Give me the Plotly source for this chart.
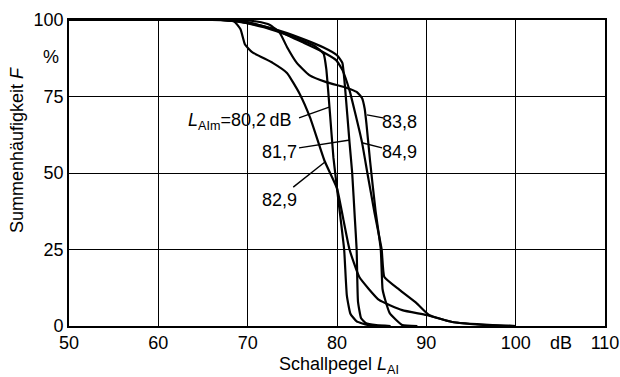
import plotly.graph_objects as go

# ---- data ----
x_802 = [50, 66, 69, 72, 75, 77.5, 78.5, 78.8, 79.2, 79.6, 80.2, 80.8, 81.1, 81.5, 82.2, 83.5, 85]
F_802 = [100, 100, 99.5, 97.5, 94.5, 91.5, 89, 84, 70, 55, 40, 25, 10, 4, 1.5, 0.3, 0]

x_817 = [50, 67, 70, 73, 76, 78.5, 80, 80.6, 80.9, 81.4, 81.7, 82.0, 82.2, 82.35, 82.7, 83.2, 84.4, 86]
F_817 = [100, 100, 99, 97, 94, 91, 88.5, 86, 78, 60, 50, 35, 25, 8, 2.5, 1, 0.3, 0]

x_829 = [50, 67, 68.5, 69.2, 69.7, 70.5, 72.8, 74.4, 75.8, 77, 78.6, 80, 80.7, 81.4, 82.5, 84.7, 87.3, 90, 92.9, 96.7, 100]
F_829 = [100, 100, 99.5, 97, 92, 89.5, 86, 82.7, 76, 68, 54, 45, 35, 25, 16, 8.5, 5.2, 3.6, 1.3, 0.3, 0]

x_838 = [50, 69, 71, 72.5, 73.6, 74.4, 75.5, 76.9, 78.8, 81.1, 82.2, 82.8, 83.1, 83.3, 83.7, 84.3, 84.9, 85.1, 85.4, 85.9, 87.3, 89]
F_838 = [100, 100, 99.5, 98.4, 95.8, 91.2, 86, 82, 79.7, 77.8, 76.5, 74.5, 71, 66, 54, 38, 25, 12, 8.5, 4.2, 0.3, 0]

x_849 = [50, 68, 70, 73.2, 76.1, 78, 79.9, 80.6, 81.4, 82, 82.8, 83.4, 84.2, 85, 85.3, 87, 88.9, 90.3, 92.9, 97.4, 100]
F_849 = [100, 100, 99.3, 96.7, 92.8, 90.2, 86.9, 83.7, 77, 70, 60, 50, 37, 25, 16, 11.8, 7.5, 3.6, 1.3, 0.3, 0]

x_ticks = [50, 60, 70, 80, 90, 100, 110]
y_ticks = [0, 25, 50, 75, 100]
labels = ["<i>L</i><sub>AIm</sub>=80,2\u2009dB", "81,7", "82,9", "83,8", "84,9"]

FONT = "Liberation Sans"
FS = 18
fig = go.Figure()
for xs, fs in [(x_802, F_802), (x_817, F_817), (x_829, F_829), (x_838, F_838), (x_849, F_849)]:
    fig.add_trace(go.Scatter(x=xs, y=fs, mode="lines",
                             line=dict(color="black", width=2.2, shape="spline", smoothing=0.4),
                             showlegend=False, hoverinfo="skip"))

# label text centres (data coords) and pointer lines
lab_pos = [(69.1, 66.7), (73.6, 56.9), (73.6, 41.2), (87.05, 66.7), (87.05, 56.9)]
ptr = [((75.75, 68.0), (79.2, 71.6)),
       ((75.75, 58.2), (81.45, 60.8)),
       ((75.1, 45.4), (78.65, 53.6)),
       ((85.15, 68.0), (83.36, 69.0)),
       ((85.04, 58.2), (82.9, 59.8))]
for (tx, ty), lab in zip(lab_pos, labels):
    fig.add_annotation(x=tx, y=ty, text=lab, showarrow=False, xanchor="center", yanchor="middle",
                       font=dict(family=FONT, size=FS, color="black"))
for (a, b) in ptr:
    fig.add_shape(type="line", x0=a[0], y0=a[1], x1=b[0], y1=b[1], line=dict(color="black", width=1.4))

fig.add_annotation(x=105.1, y=-0.055, yref="paper", text="dB", showarrow=False, yanchor="middle",
                   font=dict(family=FONT, size=FS, color="black"))
fig.add_annotation(x=0, xref="paper", xanchor="right", xshift=-8, y=87.9, text="%", showarrow=False,
                   yanchor="middle", font=dict(family=FONT, size=FS, color="black"))
fig.add_annotation(x=-0.097, xref="paper", y=0.575, yref="paper", textangle=-90, showarrow=False,
                   xanchor="center", yanchor="middle",
                   text="Summenhäufigkeit <i>F</i>", font=dict(family=FONT, size=FS, color="black"))
fig.add_annotation(x=80.2, y=-0.128, yref="paper", yanchor="middle", showarrow=False,
                   text="Schallpegel <i>L</i><sub>AI</sub>", font=dict(family=FONT, size=FS, color="black"))

fig.update_xaxes(range=[50, 110], tickvals=x_ticks, ticktext=[str(v) for v in x_ticks],
                 showgrid=True, gridcolor="black", gridwidth=1.3, zeroline=False, automargin=False,
                 showline=True, linecolor="black", linewidth=1.6, mirror=True, ticks="",
                 tickfont=dict(family=FONT, size=FS, color="black"))
fig.update_yaxes(range=[0, 100], tickvals=y_ticks, ticktext=[str(v) for v in y_ticks],
                 showgrid=True, gridcolor="black", gridwidth=1.3, zeroline=False, automargin=False,
                 showline=True, linecolor="black", linewidth=1.6, mirror=True, ticks="",
                 tickfont=dict(family=FONT, size=FS, color="black"))
fig.update_layout(width=620, height=377, margin=dict(l=69, r=15, t=20, b=51, autoexpand=False),
                  plot_bgcolor="white", paper_bgcolor="white")
fig.write_html("out.html")
